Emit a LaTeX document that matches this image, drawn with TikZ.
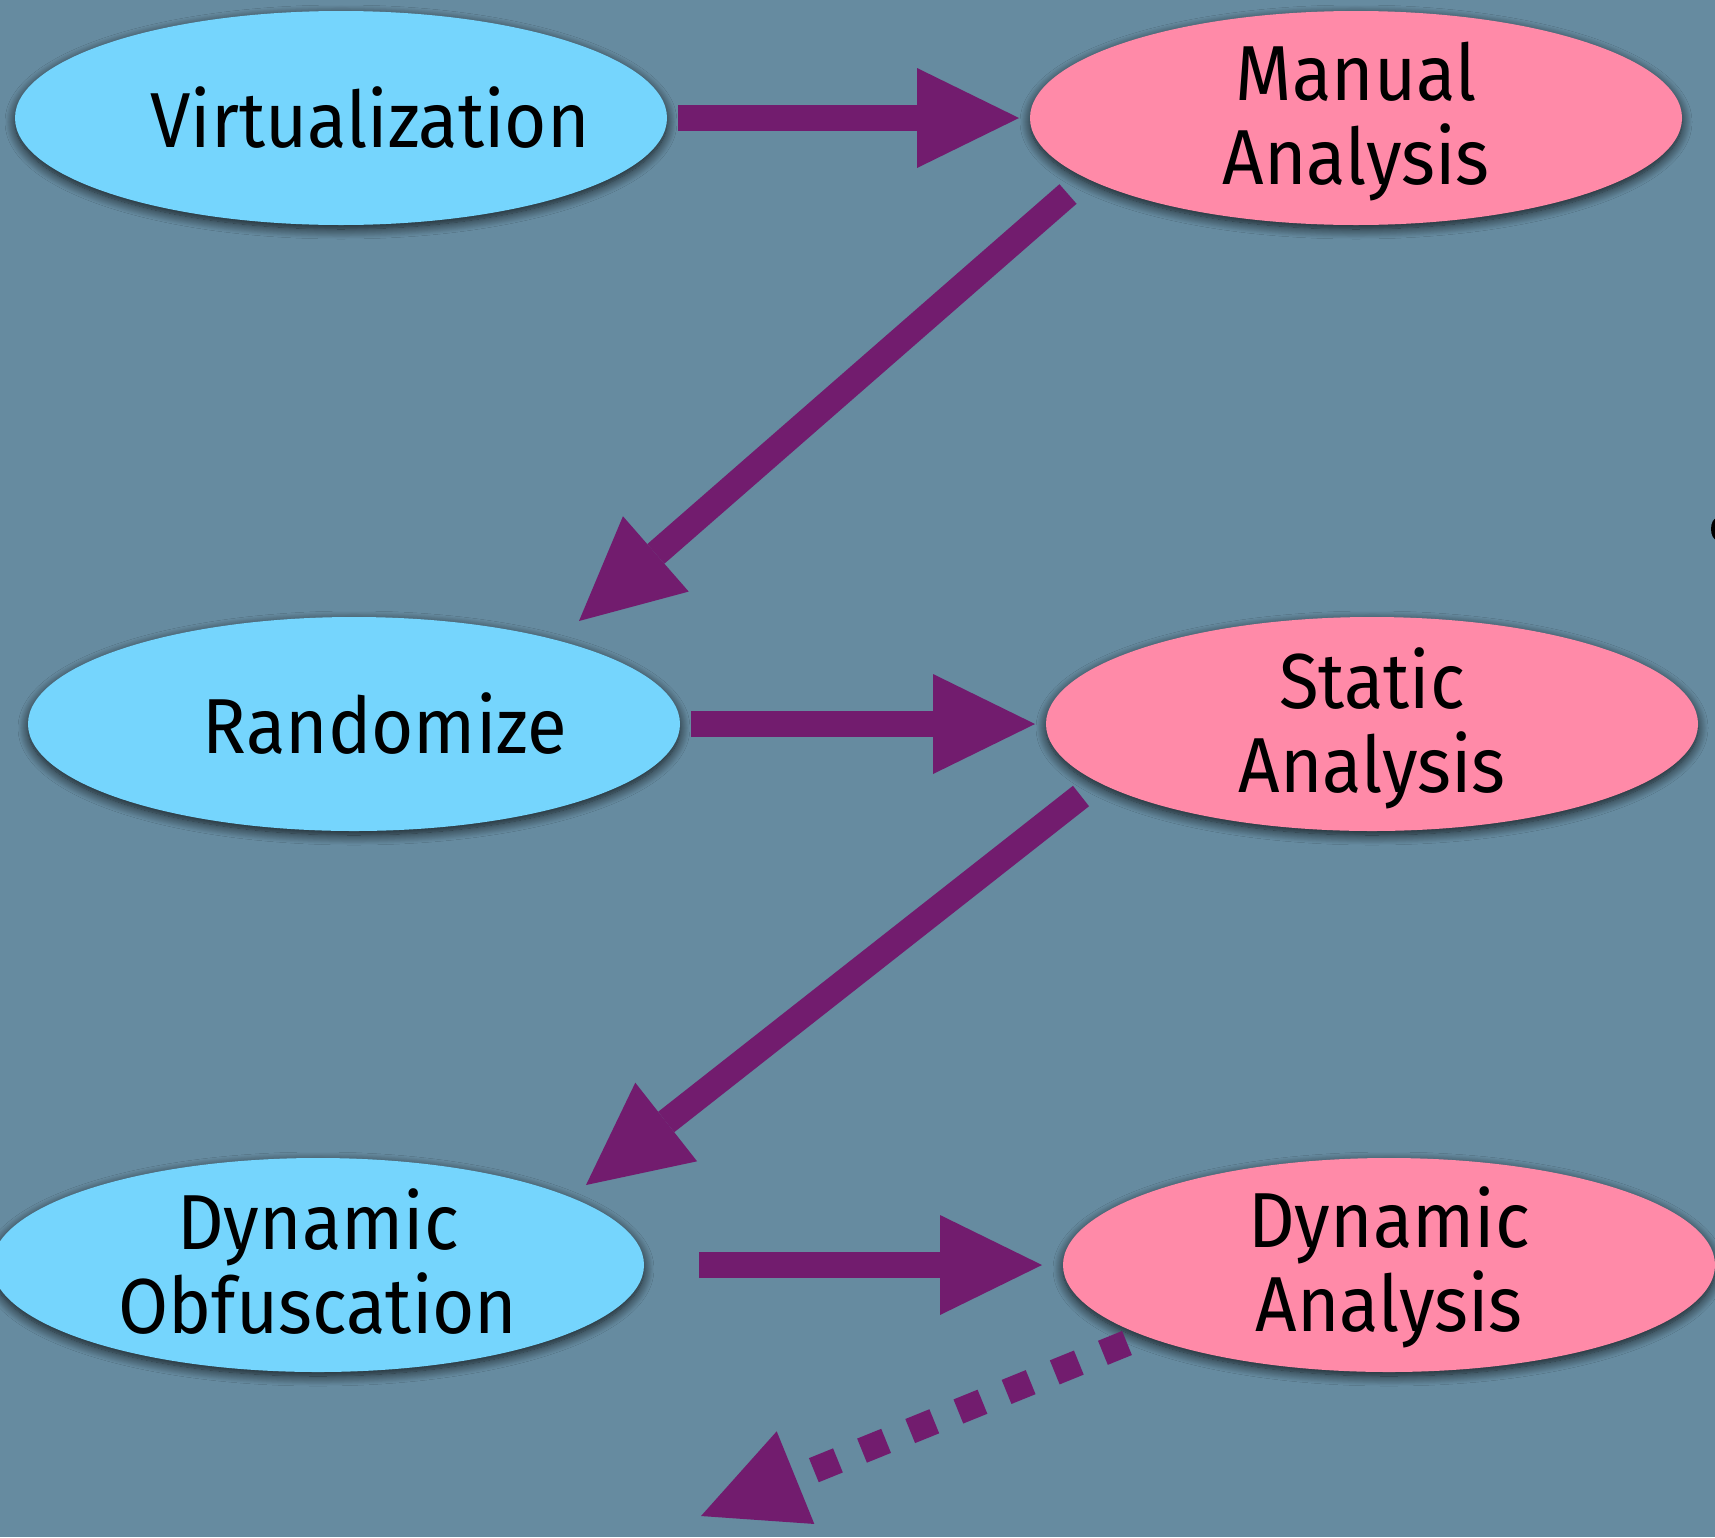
\documentclass[tikz,border=0pt]{standalone}
\usepackage{fontspec}
\setmainfont{Fira Sans}[FakeStretch=0.93]
\usetikzlibrary{arrows.meta,calc,shapes.geometric,shadows.blur}

\definecolor{bgslate}{HTML}{668BA0}
\definecolor{skyfill}{HTML}{75D5FD}
\definecolor{rosefill}{HTML}{FF8AA8}
\definecolor{plum}{HTML}{721C6E}

\tikzset{
  blob/.style={ellipse, minimum width=652pt, minimum height=214pt, inner sep=0pt,
    outer sep=11pt,
    blur shadow={shadow xshift=0pt, shadow yshift=-4pt, shadow blur radius=10pt,
      shadow opacity=80, shadow blur steps=14}},
  skyblob/.style={blob, fill=skyfill},
  roseblob/.style={blob, fill=rosefill},
  caption/.style={align=center, inner sep=0pt,
    font=\fontsize{78}{84}\selectfont},
  flow/.style={draw=plum, line width=26pt,
    -{Triangle[length=102pt 0, width=100pt 0, fill=plum, line width=0pt]}},
  dotflow/.style={flow, dash pattern=on 26pt off 26pt}
}

\begin{document}
\begin{tikzpicture}[x=1pt, y=-1pt]
  \useasboundingbox (0,0) rectangle (1715,1537);
  \fill[bgslate] (0,0) rectangle (1715,1537);

  % left column: protections
  \node[skyblob] (virt) at (341,118) {};
  \node[skyblob] (rand) at (354,724) {};
  \node[skyblob] (dyo)  at (318,1265) {};

  % right column: attacks
  \node[roseblob] (man)  at (1356,118) {};
  \node[roseblob] (stat) at (1372,724) {};
  \node[roseblob] (dan)  at (1389,1265) {};

  % captions
  \node[caption] (virtT) at ($(virt)+(29,0)$) {Virtualization};
  \node[caption] (randT) at ($(rand)+(31,0)$) {Randomize};
  \node[caption] (dyoT)  at ($(dyo)+(0,-3)$) {Dynamic\\Obfuscation};
  \node[caption] (manT)  at ($(man)+(0,4)$)  {Manual\\Analysis};
  \node[caption] (statT) at ($(stat)+(0,4)$) {Static\\Analysis};
  \node[caption] (danT)  at ($(dan)+(0,2)$)  {Dynamic\\Analysis};

  % stray mark at the right edge
  \fill[black] (1717,529) ellipse [x radius=6pt, y radius=11pt];

  % connectors
  \draw[flow] (virt) -- (man);
  \draw[flow] (rand) -- (stat);
  \draw[flow] ($(dyo.east)+(44,0)$) -- ($(dan.west)+(-10,0)$);
  \draw[flow] ($(man)+(-288,76)$) -- ($(rand)+(225,-103)$);
  \draw[flow] ($(stat)+(-291,72)$) -- ($(dyo)+(268,-80)$);
  \draw[dotflow] ($(dan)+(-262,78)$) -- ($(dan)+(-688,251)$);
\end{tikzpicture}
\end{document}
